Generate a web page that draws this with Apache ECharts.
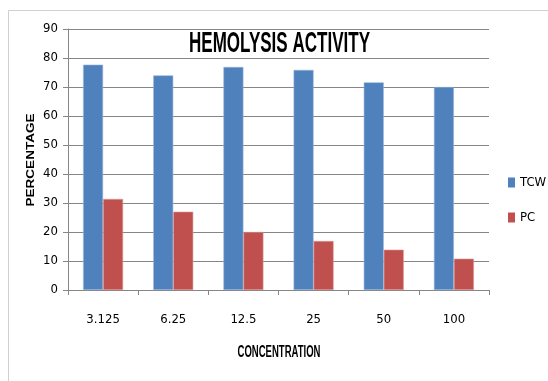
<!DOCTYPE html>
<html><head><meta charset="utf-8">
<script src="https://cdn.jsdelivr.net/npm/echarts@6/dist/echarts.min.js"></script>
<style>html,body{margin:0;padding:0;background:#fff}#c{width:548px;height:381px}</style>
</head><body><div id="c"></div>
<script>
const categories = ['3.125', '6.25', '12.5', '25', '50', '100'];
const tcwValues = [77.7, 74.0, 76.9, 75.9, 71.6, 70.0];
const pcValues = [31.4, 27.0, 20.0, 16.9, 13.9, 10.8];
const seriesNames = ['TCW', 'PC'];
const titleText = 'HEMOLYSIS ACTIVITY';
const xName = 'CONCENTRATION';
const yName = 'PERCENTAGE';
const FONT = "'DejaVu Sans Condensed','Liberation Sans',sans-serif";
const ctx = document.createElement('canvas').getContext('2d');
function fitScale(text, font, target) { ctx.font = font; return target / ctx.measureText(text).width; }
const titleFont = "bold 30px 'Liberation Sans', Arial, sans-serif";
const titleScale = fitScale(titleText, titleFont, 181);
const xNameFont = "bold 16px 'Liberation Sans', Arial, sans-serif";
const xNameScale = fitScale(xName, xNameFont, 83);
const yNameFont = "bold 11.5px 'Liberation Sans', Arial, sans-serif";
const yNameScale = fitScale(yName, yNameFont, 93);
const chart = echarts.init(document.getElementById('c'), null, {renderer: 'canvas'});
chart.setOption({
  animation: false,
  backgroundColor: '#fff',
  grid: {left: 68, right: 59, top: 29, bottom: 91, containLabel: false},
  graphic: [
    {type: 'line', shape: {x1: 8.5, y1: 10.5, x2: 548, y2: 10.5}, style: {stroke: '#d0d0d0', lineWidth: 1}},
    {type: 'line', shape: {x1: 8.5, y1: 10.5, x2: 8.5, y2: 381}, style: {stroke: '#d0d0d0', lineWidth: 1}},
    {type: 'text', x: 279.5, y: 43.5, scaleX: titleScale, z: 10,
      style: {text: titleText, font: titleFont, fill: '#000', align: 'center', verticalAlign: 'middle'}},
    {type: 'text', x: 279, y: 352.5, scaleX: xNameScale, z: 10,
      style: {text: xName, font: xNameFont, fill: '#000', align: 'center', verticalAlign: 'middle'}},
    {type: 'text', x: 31, y: 160, rotation: Math.PI / 2, scaleX: yNameScale, z: 10,
      style: {text: yName, font: yNameFont, fill: '#000', align: 'center', verticalAlign: 'middle'}}
  ],
  legend: {
    orient: 'vertical', left: 508, top: 176, padding: 0, itemWidth: 7, itemHeight: 10, itemGap: 22,
    icon: 'rect', itemStyle: {borderWidth: 0},
    textStyle: {fontFamily: FONT, fontSize: 13, color: '#000'},
    data: seriesNames
  },
  xAxis: {
    type: 'category', data: categories,
    axisLine: {lineStyle: {color: '#868686'}},
    axisTick: {show: true, length: 5, lineStyle: {color: '#868686'}},
    axisLabel: {fontFamily: FONT, fontSize: 13, color: '#000', margin: 23}
  },
  yAxis: {
    type: 'value', min: 0, max: 90, interval: 10,
    axisLine: {show: true, lineStyle: {color: '#868686'}},
    axisTick: {show: true, length: 5, lineStyle: {color: '#868686'}},
    axisLabel: {fontFamily: FONT, fontSize: 13, color: '#000', margin: 10},
    splitLine: {lineStyle: {color: '#868686'}}
  },
  series: [
    {name: seriesNames[0], type: 'bar', data: tcwValues, barWidth: 20, barGap: '0%',
      itemStyle: {color: '#4F81BD', borderColor: '#9ab6da', borderWidth: 0.6}},
    {name: seriesNames[1], type: 'bar', data: pcValues, barWidth: 20, barGap: '0%',
      itemStyle: {color: '#C0504D', borderColor: '#dc9a98', borderWidth: 0.6}}
  ]
});
</script></body></html>
